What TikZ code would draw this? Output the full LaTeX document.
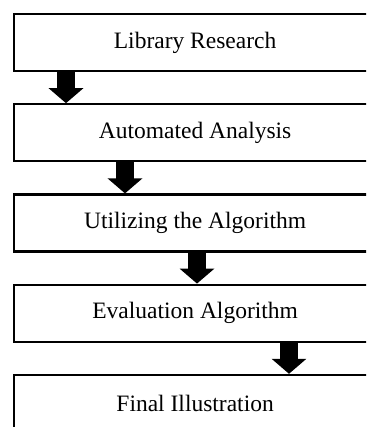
\documentclass[tikz,border=0pt]{standalone}
\usepackage{fontspec}
\setmainfont{Liberation Serif}
\usepackage{tikz}
\usetikzlibrary{arrows.meta, positioning}
\tikzset{
  stage/.style={rectangle, draw=black, line width=2.2pt, fill=white,
                minimum width=362pt, minimum height=57pt, inner sep=0pt,
                font=\fontsize{23.5}{28}\selectfont},
  blockarr/.style={line width=18pt,
                   -{Triangle[width=34pt, length=15pt]}},
}
\begin{document}
\begin{tikzpicture}[node distance=31pt]
  \useasboundingbox (0,0) rectangle (366pt,-427pt);
  \clip (0,0) rectangle (366pt,-427pt);
  \node[stage, anchor=north west] (lib) at (13pt,-13pt) {Library Research};
  \node[stage, below=of lib]   (auto)  {Automated Analysis};
  \node[stage, below=of auto]  (algo)  {Utilizing the Algorithm};
  \node[stage, below=of algo]  (eval)  {Evaluation Algorithm};
  \node[stage, below=of eval]  (final) {Final Illustration};
  \foreach \a/\b/\dx in {lib/auto/53pt, auto/algo/112pt, algo/eval/184pt, eval/final/276pt}
    \draw[blockarr] ([xshift=\dx]\a.south west) -- ([xshift=\dx]\b.north west);
\end{tikzpicture}
\end{document}
